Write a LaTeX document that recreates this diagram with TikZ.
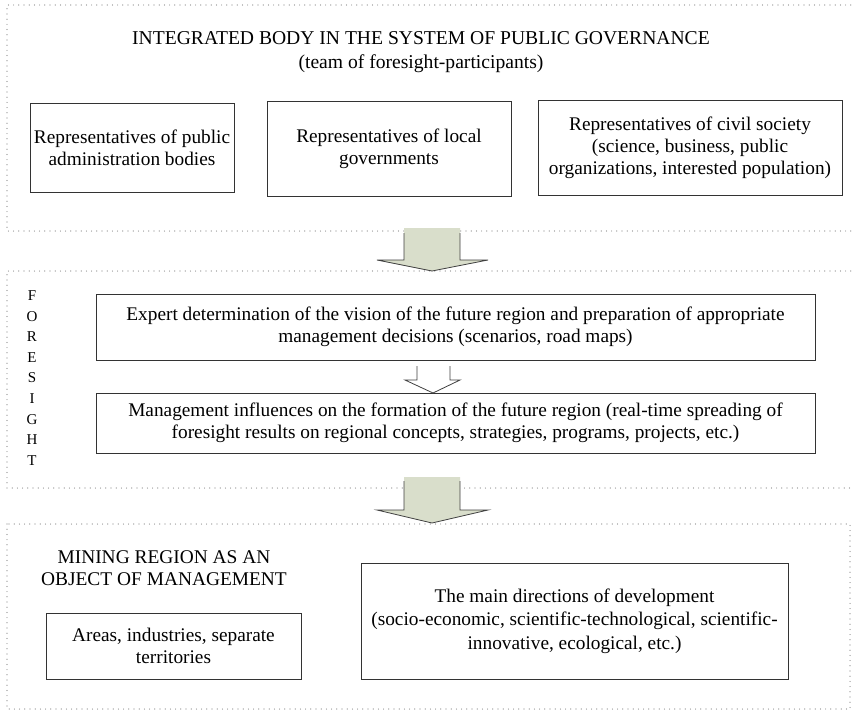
\documentclass[tikz,border=0pt]{standalone}
\usepackage{fontspec}
\setmainfont{Liberation Serif}
\definecolor{arrowfill}{RGB}{217,222,203}
\definecolor{dotgray}{RGB}{130,130,130}
\begin{document}
\begin{tikzpicture}[x=1pt,y=-1pt,
  frame/.style={draw=dotgray, line width=1.2pt, dash pattern=on 0pt off 5.2pt, line cap=round},
  box/.style={draw=black!80, line width=0.9pt, rectangle, inner sep=0pt, align=center,
    font=\fontsize{19.3}{22}\selectfont},
  label/.style={inner sep=0pt, align=center, font=\fontsize{19.3}{22}\selectfont},
  bigarrow/.style={fill=arrowfill, draw=none},
  arrowline/.style={draw=black!75, line width=0.8pt, line join=miter},
]
\useasboundingbox (0,0) rectangle (853,712);
\fill[white] (0,0) rectangle (853,712);

% frames
\draw[frame] (856,5) -- (7,5) -- (7,231) -- (856,231);
\draw[frame] (856,271) -- (7,271) -- (7,488) -- (856,488);
\draw[frame] (7,524) rectangle (850,709);

% top section
\node[label, font=\fontsize{19.6}{23.5}\selectfont] (title) at (421,52) {INTEGRATED BODY IN THE SYSTEM OF PUBLIC GOVERNANCE\\(team of foresight-participants)};
\node[box, minimum width=204pt, minimum height=89pt] (pub) at (132,147.5) {Representatives of public\\administration bodies};
\node[box, minimum width=244pt, minimum height=95pt] (loc) at (389,148.5) {Representatives of local\\governments};
\node[box, minimum width=304pt, minimum height=95pt] (civ) at (690,147.5) {Representatives of civil society\\(science, business, public\\organizations, interested population)};

% arrow 1
\fill[bigarrow] (404,228) -- (404,260) -- (377,260) -- (432,271) -- (488,260) -- (460,260) -- (460,228) -- cycle;
\draw[arrowline] (404,233) -- (404,260) -- (377,260) -- (432,271) -- (488,260) -- (460,260) -- (460,233);

% middle section
\node[label, font=\fontsize{15}{20.6}\selectfont] (fs) at (32,378) {F\\O\\R\\E\\S\\I\\G\\H\\T};
\node[box, minimum width=719pt, minimum height=66pt] (exp) at (455.5,327) {Expert determination of the vision of the future region and preparation of appropriate\\management decisions (scenarios, road maps)};
\node[box, minimum width=719pt, minimum height=60pt] (mgt) at (455.5,423) {Management influences on the formation of the future region (real-time spreading of\\foresight results on regional concepts, strategies, programs, projects, etc.)};
\draw[arrowline, fill=white] (417,366) -- (417,380) -- (405,380) -- (433,393) -- (460,380) -- (450,380) -- (450,366);

% arrow 2
\fill[bigarrow] (404,477) -- (404,510) -- (377,510) -- (432,523) -- (488,510) -- (460,510) -- (460,477) -- cycle;
\draw[arrowline] (404,481) -- (404,510) -- (377,510) -- (432,523) -- (488,510) -- (460,510) -- (460,481);

% bottom section
\node[label, font=\fontsize{19.4}{22.5}\selectfont] (mining) at (164,568) {MINING REGION AS AN\\OBJECT OF MANAGEMENT};
\node[box, minimum width=255pt, minimum height=66pt] (areas) at (173.5,646) {Areas, industries, separate\\territories};
\node[box, minimum width=427pt, minimum height=116pt, font=\fontsize{19.3}{23.5}\selectfont] (dir) at (574.5,621) {The main directions of development\\(socio-economic, scientific-technological, scientific-\\innovative, ecological, etc.)};
\end{tikzpicture}
\end{document}
